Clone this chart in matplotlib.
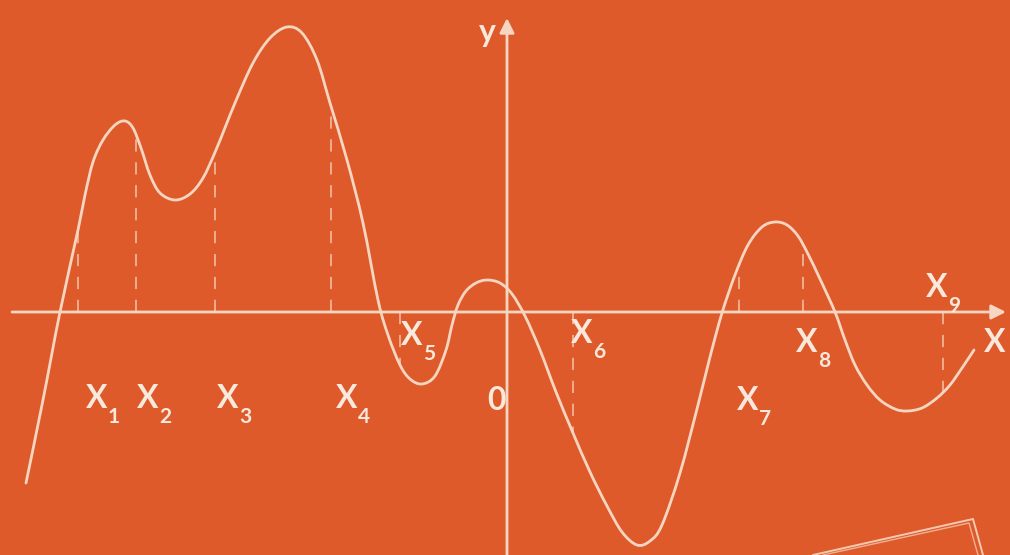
import matplotlib
matplotlib.use("Agg")
import matplotlib.pyplot as plt
from matplotlib.path import Path
from matplotlib.patches import PathPatch
import numpy as np

# ---- data (origin at the axes crossing) ----
curve_x = [-4.81, -4.64, -4.47, -4.29, -4.22, -4.14, -4.04, -3.92, -3.82, -3.74,
           -3.66, -3.57, -3.47, -3.32, -3.17, -3.04, -2.91, -2.72, -2.54, -2.37,
           -2.20, -2.05, -1.90, -1.77, -1.60, -1.44, -1.29, -1.19, -1.07, -0.97,
           -0.85, -0.72, -0.61, -0.55, -0.49, -0.41, -0.31, -0.20, -0.07, 0.05,
           0.18, 0.33, 0.49, 0.66, 0.83, 1.00, 1.15, 1.30, 1.43, 1.55,
           1.73, 1.91, 2.03, 2.15, 2.28, 2.41, 2.55, 2.68, 2.80, 2.91,
           3.01, 3.13, 3.28, 3.38, 3.48, 3.60, 3.73, 3.88, 4.00, 4.15,
           4.30, 4.43, 4.55, 4.67]
curve_y = [-1.71, -0.88, 0.00, 0.82, 1.17, 1.50, 1.72, 1.87, 1.91, 1.84,
           1.64, 1.37, 1.19, 1.12, 1.18, 1.34, 1.62, 2.09, 2.49, 2.74,
           2.85, 2.79, 2.52, 2.09, 1.52, 0.89, 0.12, -0.23, -0.53, -0.67,
           -0.72, -0.64, -0.38, -0.13, 0.07, 0.21, 0.29, 0.32, 0.29, 0.18,
           -0.04, -0.38, -0.80, -1.21, -1.60, -1.94, -2.20, -2.33, -2.29, -2.13,
           -1.61, -0.93, -0.45, -0.01, 0.37, 0.67, 0.85, 0.90, 0.87, 0.76,
           0.58, 0.33, 0.00, -0.28, -0.53, -0.73, -0.88, -0.97, -0.99, -0.96,
           -0.86, -0.73, -0.56, -0.38]

# marked points X1..X9 (x value, curve value)
mark_x = [-4.29, -3.71, -2.92, -1.76, -1.07, 0.66, 2.32, 2.96, 4.36]
mark_y = [0.82, 1.74, 1.60, 2.05, -0.53, -1.21, 0.47, 0.67, -0.82]
mark_subs = ["1", "2", "3", "4", "5", "6", "7", "8", "9"]

# label anchors (centre of the "X" glyph)
label_x = [-4.10, -3.59, -2.79, -1.60, -0.95, 0.75, 2.41, 3.00, 4.30]
label_y = [-0.86, -0.86, -0.86, -0.86, -0.23, -0.21, -0.88, -0.30, 0.25]

BG = "#df5a2b"
LINE = "#f6d6c0"
TEXT = "#f9e8dc"

fig = plt.figure(figsize=(10.10, 5.55), dpi=100)
fig.patch.set_facecolor(BG)
ax = fig.add_axes([0, 0, 1, 1])
ax.set_facecolor(BG)
ax.set_xlim(-5.07, 5.03)
ax.set_ylim(-2.43, 3.12)
ax.axis("off")

# axes with arrows
ax.annotate("", xy=(4.99, 0.0), xytext=(-4.95, 0.0),
            arrowprops=dict(arrowstyle="-|>", color=LINE, lw=2.0,
                            mutation_scale=22, shrinkA=0, shrinkB=0))
ax.annotate("", xy=(0.0, 2.94), xytext=(0.0, -2.45),
            arrowprops=dict(arrowstyle="-|>", color=LINE, lw=2.0,
                            mutation_scale=22, shrinkA=0, shrinkB=0))

# smooth curve through the read points (Catmull-Rom as cubic Bezier)
P = np.column_stack([curve_x, curve_y])
n = len(P)
verts = [P[0]]
codes = [Path.MOVETO]
for i in range(n - 1):
    p0 = P[i - 1] if i > 0 else P[i]
    p1 = P[i]
    p2 = P[i + 1]
    p3 = P[i + 2] if i + 2 < n else P[i + 1]
    c1 = p1 + (p2 - p0) / 6.0
    c2 = p2 - (p3 - p1) / 6.0
    verts += [c1, c2, p2]
    codes += [Path.CURVE4] * 3
ax.add_patch(PathPatch(Path(verts, codes), facecolor="none",
                       edgecolor=LINE, lw=2.0, capstyle="round", joinstyle="round"))

# dashed verticals
for mx, my in zip(mark_x, mark_y):
    ax.plot([mx, mx], [0, my], color=LINE, lw=1.1, dashes=(8, 7), alpha=0.85)

# labels
fam = ["Lato", "DejaVu Sans"]
for lx, ly, s in zip(label_x, label_y, mark_subs):
    ax.text(lx, ly, "X", color=TEXT, fontsize=23, fontweight="bold",
            ha="center", va="center", family=fam)
    ax.text(lx + 0.17, ly - 0.19, s, color=TEXT, fontsize=15, fontweight="bold",
            ha="center", va="center", family=fam)

ax.text(-0.10, -0.88, "0", color=TEXT, fontsize=23, fontweight="bold",
        ha="center", va="center", family=fam)
ax.text(4.88, -0.30, "X", color=TEXT, fontsize=23, fontweight="bold",
        ha="center", va="center", family=fam)
ax.text(-0.20, 2.80, "y", color=TEXT, fontsize=23, fontweight="bold",
        ha="center", va="center", family=fam)

# frame corner at bottom right
ax.plot([3.06, 4.66, 4.76], [-2.43, -2.07, -2.43], color=LINE, lw=1.4, alpha=0.9)
ax.plot([3.16, 4.62, 4.71], [-2.43, -2.11, -2.43], color=LINE, lw=1.0, alpha=0.7)

fig.savefig("out.png", dpi=100, facecolor=BG)
